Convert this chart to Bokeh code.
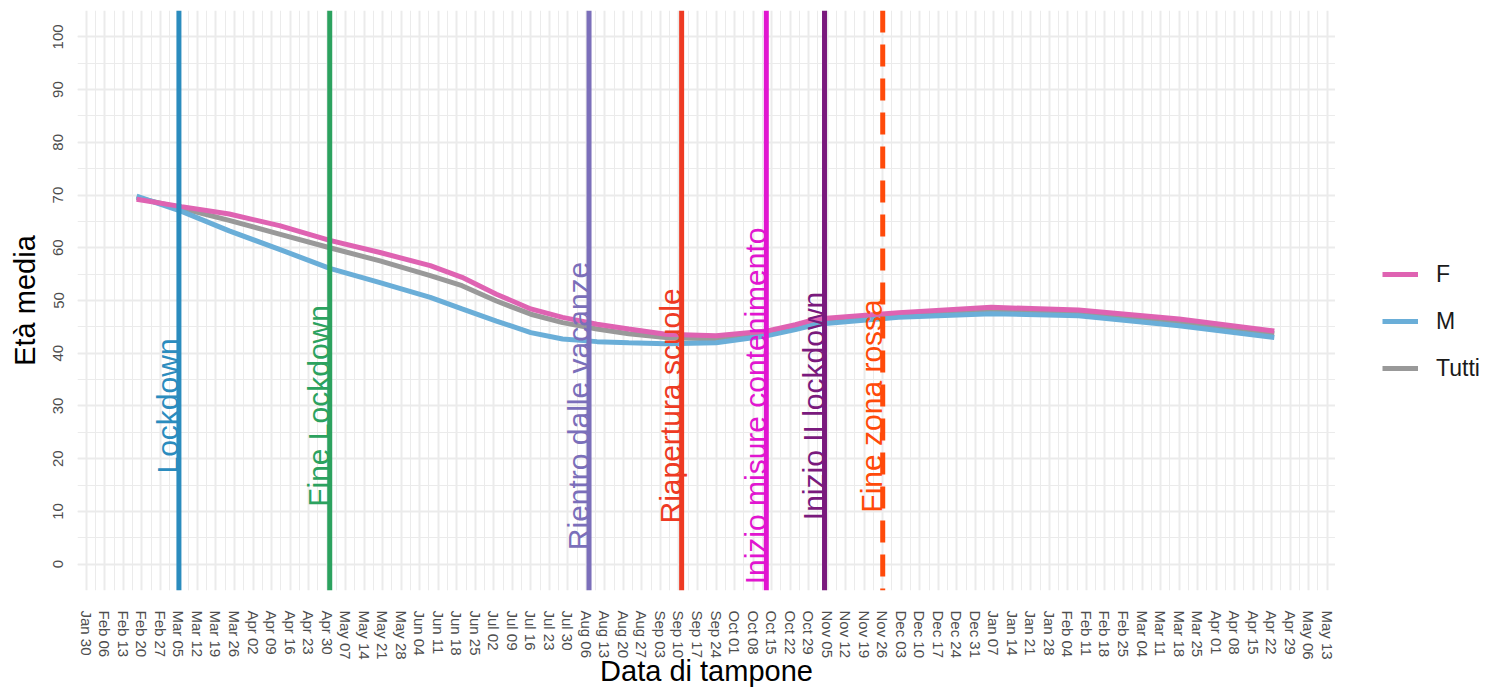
import numpy as np
import pandas as pd
from bokeh.plotting import figure
from bokeh.layouts import row
from bokeh.models import (FixedTicker, SingleIntervalTicker, DatetimeTickFormatter,
                          Legend, LegendItem, Span, Range1d, ColumnDataSource)
from bokeh.embed import file_html
from bokeh.resources import INLINE
from bokeh.core.properties import value

# ---------------- data ----------------
dates = ["2020-02-18", "2020-03-06", "2020-03-24", "2020-04-12", "2020-05-01",
         "2020-05-20", "2020-06-08", "2020-06-20", "2020-07-03", "2020-07-16",
         "2020-07-28", "2020-08-10", "2020-08-22", "2020-09-05", "2020-09-24",
         "2020-10-13", "2020-10-24", "2020-11-01", "2020-12-02", "2021-01-06",
         "2021-02-08", "2021-03-18", "2021-04-23"]
eta_F = [69.2, 67.8, 66.4, 64.2, 61.4, 59.1, 56.6, 54.4, 51.2, 48.4, 46.8, 45.5,
         44.6, 43.6, 43.3, 44.2, 45.4, 46.5, 47.7, 48.7, 48.2, 46.5, 44.2]
eta_M = [69.8, 66.9, 63.2, 59.7, 56.1, 53.4, 50.6, 48.4, 46.1, 43.9, 42.7, 42.2,
         42.0, 41.8, 42.0, 43.3, 44.5, 45.5, 46.8, 47.5, 47.1, 45.2, 43.0]
eta_T = [69.5, 67.5, 65.2, 62.6, 60.0, 57.5, 54.7, 52.8, 49.9, 47.4, 45.8, 44.6,
         43.7, 43.0, 42.7, 43.8, 45.0, 46.0, 47.3, 48.1, 47.7, 45.9, 43.7]

events = ["Lockdown", "Fine Lockdown", "Rientro dalle vacanze", "Riapertura scuole",
          "Inizio misure contenimento", "Inizio II lockdown", "Fine zona rossa"]
event_dates = ["2020-03-05", "2020-05-01", "2020-08-07", "2020-09-11",
               "2020-10-13", "2020-11-04", "2020-11-26"]
event_colors = ["#2B8CBE", "#2CA25F", "#7B6FBA", "#EE3A23", "#E116D0", "#7A1A7D", "#FF4A0A"]
event_dash = ["solid", "solid", "solid", "solid", "solid", "solid", "22 12"]

tick_start = "2020-01-30"
tick_end = "2021-05-13"

series_names = ["F", "M", "Tutti"]
series_colors = {"F": "#DF63B2", "M": "#6AAED8", "Tutti": "#999999"}

# ---------------- build ----------------
x = pd.to_datetime(dates)
src = ColumnDataSource(dict(x=x, F=eta_F, M=eta_M, Tutti=eta_T))

week_ticks = pd.date_range(tick_start, tick_end, freq="7D")
major_ms = [int(t.value // 10**6) for t in week_ticks]
minor_ms = [int((t + pd.Timedelta(hours=84)).value // 10**6) for t in week_ticks[:-1]]

x0 = pd.Timestamp("2020-01-26 16:00")
x1 = pd.Timestamp("2021-05-16 03:00")

FONT = "Liberation Sans"
H = 689

p = figure(width=1335, height=H, x_axis_type="datetime",
           x_range=Range1d(x0, x1), y_range=Range1d(-5, 105),
           output_backend="svg", toolbar_location=None,
           min_border_left=77, min_border_right=0, min_border_top=10,
           min_border_bottom=99)
p.outline_line_color = None
p.background_fill_color = "white"
p.border_fill_color = "white"

p.xaxis.ticker = FixedTicker(ticks=major_ms, minor_ticks=minor_ms)
fmt = "%b %d"
p.xaxis.formatter = DatetimeTickFormatter(days=fmt, months=fmt, years=fmt, hours=fmt,
                                          hourmin=fmt, minutes=fmt, minsec=fmt,
                                          seconds=fmt, milliseconds=fmt, microseconds=fmt)
p.yaxis.ticker = SingleIntervalTicker(interval=10, num_minor_ticks=2)

for ax in (p.xaxis[0], p.yaxis[0]):
    ax.axis_line_color = None
    ax.major_tick_line_color = None
    ax.minor_tick_line_color = None
    ax.major_tick_out = 0
    ax.major_tick_in = 0
    ax.minor_tick_out = 0
    ax.minor_tick_in = 0
    ax.major_label_text_font = FONT
    ax.major_label_text_font_size = "15px"
    ax.major_label_text_color = "#4D4D4D"
    ax.axis_label_text_font = FONT
    ax.axis_label_text_font_size = "29px"
    ax.axis_label_text_font_style = "normal"
    ax.axis_label_text_color = "black"
    ax.major_label_orientation = "vertical"

p.xaxis.axis_label = "Data di tampone"
p.yaxis.axis_label = "Età media"
p.xaxis.major_label_standoff = 20
p.xaxis.axis_label_standoff = -8
p.yaxis.major_label_standoff = 14
p.yaxis.axis_label_standoff = 10

for g in (p.xgrid[0], p.ygrid[0]):
    g.grid_line_color = "#EBEBEB"
    g.grid_line_width = 2
    g.minor_grid_line_color = "#EBEBEB"
    g.minor_grid_line_width = 1

rT = p.line("x", "Tutti", source=src, line_color=series_colors["Tutti"], line_width=5)
rM = p.line("x", "M", source=src, line_color=series_colors["M"], line_width=5)
rF = p.line("x", "F", source=src, line_color=series_colors["F"], line_width=5)

ev_x = pd.to_datetime(event_dates)
for d, c, dash in zip(ev_x, event_colors, event_dash):
    p.add_layout(Span(location=int(d.value // 10**6), dimension="height",
                      line_color=c, line_width=5, line_dash=dash))

ev_src = ColumnDataSource(dict(x=ev_x, y=[30] * len(events), text=events, color=event_colors))
p.text("x", "y", text="text", source=ev_src, angle=np.pi / 2, text_align="center",
       text_baseline="middle", x_offset=-11, text_color="color", text_font=value(FONT),
       text_font_size="30px")

# ---------------- legend panel (separate figure to the right) ----------------
leg = figure(width=151, height=H, output_backend="svg", toolbar_location=None,
             x_range=Range1d(0, 1), y_range=Range1d(0, 1),
             x_axis_location=None, y_axis_location=None, min_border=0)
leg.outline_line_color = None
leg.grid.visible = False
leg_items = []
for name in series_names:
    r = leg.line("x", name, source=src, line_color=series_colors[name], line_width=5)
    leg_items.append(LegendItem(label=name, renderers=[r]))

legend = Legend(items=leg_items, location=(47, 202), glyph_width=36, glyph_height=40,
                label_height=40, spacing=7, padding=0, margin=0, border_line_color=None,
                background_fill_alpha=0, label_text_font=FONT,
                label_text_font_size="23px", label_standoff=18,
                label_text_color="#1A1A1A")
leg.add_layout(legend)

layout = row(p, leg)
open("out.html", "w").write(file_html(layout, INLINE))
